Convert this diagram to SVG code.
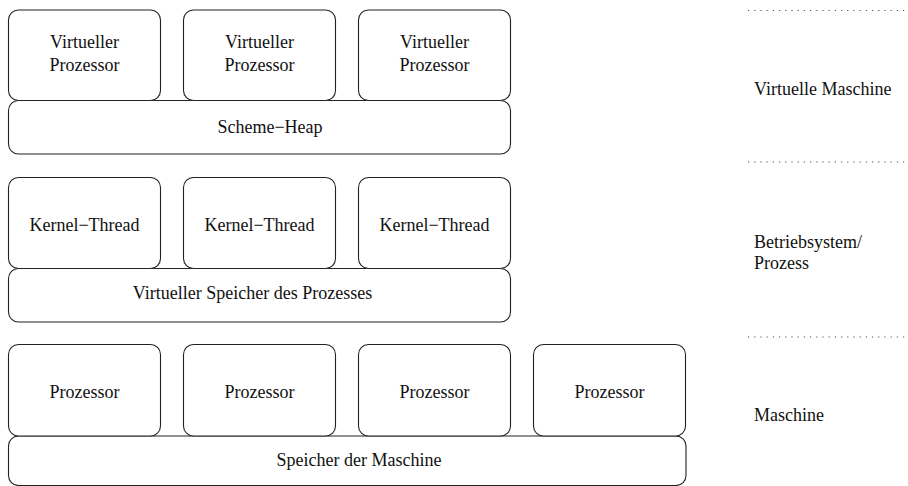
<svg xmlns="http://www.w3.org/2000/svg" width="908" height="486" viewBox="0 0 908 486" font-family="Liberation Serif, Times New Roman, Nimbus Roman, Noto Serif, DejaVu Serif, serif">
<style>
.b{fill:#fff;stroke:#222;stroke-width:1.1}
text{font-family:'Liberation Serif','Times New Roman','Nimbus Roman','Noto Serif','DejaVu Serif',serif;font-size:18px;fill:#111}
.c{text-anchor:middle}
.d{stroke:#555;stroke-width:1.2;stroke-dasharray:1.2 5}
</style>
<g id="sep">
<line class="d" x1="748" y1="10.5" x2="906" y2="10.5"/>
<line class="d" x1="748" y1="162" x2="906" y2="162"/>
<line class="d" x1="748" y1="337" x2="906" y2="337"/>
</g>
<g id="heap"><rect class="b" x="8.5" y="100.5" width="502" height="53.5" rx="10"/><text class="c" x="270" y="133">Scheme−Heap</text></g>
<g id="vp1"><rect class="b" x="8.5" y="10" width="152" height="90.5" rx="10"/><text class="c" x="84.5" y="48">Virtueller</text><text class="c" x="84.5" y="71">Prozessor</text></g>
<g id="vp2"><rect class="b" x="183.5" y="10" width="152" height="90.5" rx="10"/><text class="c" x="259.5" y="48">Virtueller</text><text class="c" x="259.5" y="71">Prozessor</text></g>
<g id="vp3"><rect class="b" x="358.5" y="10" width="152" height="90.5" rx="10"/><text class="c" x="434.5" y="48">Virtueller</text><text class="c" x="434.5" y="71">Prozessor</text></g>
<g id="vmem"><rect class="b" x="8.5" y="268.5" width="502" height="53.5" rx="10"/><text class="c" x="252.5" y="298.5">Virtueller Speicher des Prozesses</text></g>
<g id="kt1"><rect class="b" x="8.5" y="177.5" width="152" height="91" rx="10"/><text class="c" x="84.5" y="231">Kernel−Thread</text></g>
<g id="kt2"><rect class="b" x="183.5" y="177.5" width="152" height="91" rx="10"/><text class="c" x="259.5" y="231">Kernel−Thread</text></g>
<g id="kt3"><rect class="b" x="358.5" y="177.5" width="152" height="91" rx="10"/><text class="c" x="434.5" y="231">Kernel−Thread</text></g>
<g id="mem"><rect class="b" x="8.5" y="436" width="677.5" height="49.5" rx="10"/><text class="c" x="359" y="466">Speicher der Maschine</text></g>
<g id="p1"><rect class="b" x="8.5" y="344.5" width="152" height="91.5" rx="10"/><text class="c" x="84.5" y="398">Prozessor</text></g>
<g id="p2"><rect class="b" x="183.5" y="344.5" width="152" height="91.5" rx="10"/><text class="c" x="259.5" y="398">Prozessor</text></g>
<g id="p3"><rect class="b" x="358.5" y="344.5" width="152" height="91.5" rx="10"/><text class="c" x="434.5" y="398">Prozessor</text></g>
<g id="p4"><rect class="b" x="533.5" y="344.5" width="152" height="91.5" rx="10"/><text class="c" x="609.5" y="398">Prozessor</text></g>
<g id="labels">
<text x="754" y="95">Virtuelle Maschine</text>
<text x="754" y="248">Betriebsystem/</text>
<text x="754" y="269">Prozess</text>
<text x="754" y="421">Maschine</text>
</g>
</svg>
